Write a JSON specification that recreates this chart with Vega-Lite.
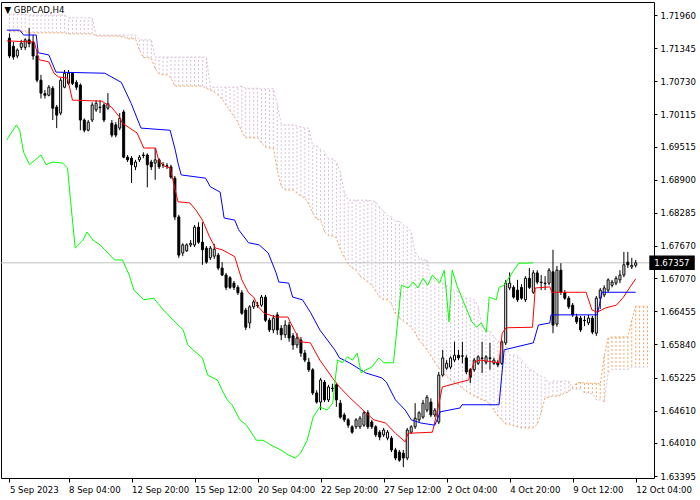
{
"$schema": "https://vega.github.io/schema/vega-lite/v6.json",
"width": 653, "height": 476,
"autosize": {"type": "none"},
"padding": {"left": 1, "top": 2, "right": 46, "bottom": 22},
"background": "white",
"title": {"text": "▼ GBPCAD,H4", "anchor": "start", "offset": -12, "dx": 4, "fontSize": 9.5, "fontWeight": "normal", "font": "DejaVu Sans Condensed, DejaVu Sans, sans-serif", "color": "black"},
"config": {
  "view": {"stroke": "#000000", "strokeWidth": 1},
  "axis": {"labelFont": "DejaVu Sans Condensed, DejaVu Sans, sans-serif", "labelFontSize": 9.5, "labelColor": "black", "tickColor": "black", "grid": false, "domain": false, "labelOverlap": false, "labelFlush": false, "labelBound": false}
},
"datasets": {
"candles": [
{"b":1,"o":1.7153,"h":1.7162,"l":1.7116,"c":1.7120},
{"b":2,"o":1.7138,"h":1.7146,"l":1.7113,"c":1.7118},
{"b":3,"o":1.7120,"h":1.7134,"l":1.7116,"c":1.7131},
{"b":4,"o":1.7136,"h":1.7150,"l":1.7131,"c":1.7144},
{"b":5,"o":1.7136,"h":1.7153,"l":1.7131,"c":1.7150},
{"b":6,"o":1.7150,"h":1.7172,"l":1.7136,"c":1.7143},
{"b":7,"o":1.7146,"h":1.7159,"l":1.7113,"c":1.7120},
{"b":8,"o":1.7120,"h":1.7131,"l":1.7071,"c":1.7075},
{"b":9,"o":1.7075,"h":1.7085,"l":1.7041,"c":1.7051},
{"b":10,"o":1.7050,"h":1.7057,"l":1.7041,"c":1.7047},
{"b":11,"o":1.7047,"h":1.7066,"l":1.7045,"c":1.7062},
{"b":12,"o":1.7060,"h":1.7064,"l":1.7001,"c":1.7023},
{"b":13,"o":1.7025,"h":1.7029,"l":1.6986,"c":1.7010},
{"b":14,"o":1.7014,"h":1.7079,"l":1.7010,"c":1.7075},
{"b":15,"o":1.7062,"h":1.7094,"l":1.7060,"c":1.7088},
{"b":16,"o":1.7069,"h":1.7094,"l":1.7066,"c":1.7088},
{"b":17,"o":1.7088,"h":1.7090,"l":1.7066,"c":1.7069},
{"b":18,"o":1.7071,"h":1.7075,"l":1.7057,"c":1.7062},
{"b":19,"o":1.7066,"h":1.7069,"l":1.6982,"c":1.7001},
{"b":20,"o":1.7001,"h":1.7004,"l":1.6978,"c":1.6982},
{"b":21,"o":1.6982,"h":1.7001,"l":1.6980,"c":1.6997},
{"b":22,"o":1.7001,"h":1.7034,"l":1.6997,"c":1.7029},
{"b":23,"o":1.7020,"h":1.7038,"l":1.7016,"c":1.7032},
{"b":24,"o":1.7025,"h":1.7038,"l":1.7014,"c":1.7024},
{"b":25,"o":1.7029,"h":1.7032,"l":1.6997,"c":1.7001},
{"b":26,"o":1.7023,"h":1.7051,"l":1.7020,"c":1.7031},
{"b":27,"o":1.6995,"h":1.7001,"l":1.6969,"c":1.6973},
{"b":28,"o":1.6992,"h":1.6997,"l":1.6969,"c":1.6973},
{"b":29,"o":1.6986,"h":1.7014,"l":1.6982,"c":1.7004},
{"b":30,"o":1.7016,"h":1.7020,"l":1.6930,"c":1.6932},
{"b":31,"o":1.6932,"h":1.6936,"l":1.6923,"c":1.6927},
{"b":32,"o":1.6930,"h":1.6934,"l":1.6884,"c":1.6918},
{"b":33,"o":1.6914,"h":1.6927,"l":1.6908,"c":1.6923},
{"b":34,"o":1.6927,"h":1.6936,"l":1.6923,"c":1.6932},
{"b":35,"o":1.6936,"h":1.6941,"l":1.6930,"c":1.6935},
{"b":36,"o":1.6936,"h":1.6939,"l":1.6876,"c":1.6918},
{"b":37,"o":1.6923,"h":1.6927,"l":1.6908,"c":1.6914},
{"b":38,"o":1.6921,"h":1.6949,"l":1.6890,"c":1.6927},
{"b":39,"o":1.6927,"h":1.6930,"l":1.6910,"c":1.6914},
{"b":40,"o":1.6918,"h":1.6923,"l":1.6912,"c":1.6917},
{"b":41,"o":1.6916,"h":1.6921,"l":1.6910,"c":1.6915},
{"b":42,"o":1.6914,"h":1.6918,"l":1.6892,"c":1.6895},
{"b":43,"o":1.6893,"h":1.6897,"l":1.6815,"c":1.6821},
{"b":44,"o":1.6821,"h":1.6825,"l":1.6745,"c":1.6750},
{"b":45,"o":1.6754,"h":1.6772,"l":1.6748,"c":1.6769},
{"b":46,"o":1.6758,"h":1.6772,"l":1.6756,"c":1.6769},
{"b":47,"o":1.6769,"h":1.6778,"l":1.6765,"c":1.6772},
{"b":48,"o":1.6769,"h":1.6806,"l":1.6765,"c":1.6802},
{"b":49,"o":1.6802,"h":1.6811,"l":1.6771,"c":1.6774},
{"b":50,"o":1.6774,"h":1.6811,"l":1.6732,"c":1.6760},
{"b":51,"o":1.6763,"h":1.6767,"l":1.6734,"c":1.6737},
{"b":52,"o":1.6745,"h":1.6767,"l":1.6741,"c":1.6763},
{"b":53,"o":1.6748,"h":1.6771,"l":1.6743,"c":1.6761},
{"b":54,"o":1.6750,"h":1.6754,"l":1.6722,"c":1.6726},
{"b":55,"o":1.6726,"h":1.6737,"l":1.6711,"c":1.6713},
{"b":56,"o":1.6713,"h":1.6717,"l":1.6685,"c":1.6690},
{"b":57,"o":1.6708,"h":1.6711,"l":1.6687,"c":1.6690},
{"b":58,"o":1.6698,"h":1.6702,"l":1.6685,"c":1.6690},
{"b":59,"o":1.6690,"h":1.6694,"l":1.6676,"c":1.6680},
{"b":60,"o":1.6680,"h":1.6685,"l":1.6639,"c":1.6642},
{"b":61,"o":1.6648,"h":1.6652,"l":1.6611,"c":1.6616},
{"b":62,"o":1.6624,"h":1.6657,"l":1.6614,"c":1.6654},
{"b":63,"o":1.6654,"h":1.6667,"l":1.6650,"c":1.6663},
{"b":64,"o":1.6657,"h":1.6663,"l":1.6652,"c":1.6656},
{"b":65,"o":1.6657,"h":1.6676,"l":1.6654,"c":1.6672},
{"b":66,"o":1.6672,"h":1.6676,"l":1.6626,"c":1.6629},
{"b":67,"o":1.6629,"h":1.6633,"l":1.6607,"c":1.6611},
{"b":68,"o":1.6611,"h":1.6639,"l":1.6605,"c":1.6633},
{"b":69,"o":1.6639,"h":1.6644,"l":1.6602,"c":1.6611},
{"b":70,"o":1.6614,"h":1.6620,"l":1.6592,"c":1.6602},
{"b":71,"o":1.6602,"h":1.6629,"l":1.6596,"c":1.6620},
{"b":72,"o":1.6620,"h":1.6626,"l":1.6589,"c":1.6596},
{"b":73,"o":1.6600,"h":1.6605,"l":1.6574,"c":1.6583},
{"b":74,"o":1.6583,"h":1.6605,"l":1.6577,"c":1.6596},
{"b":75,"o":1.6592,"h":1.6598,"l":1.6561,"c":1.6568},
{"b":76,"o":1.6568,"h":1.6574,"l":1.6551,"c":1.6555},
{"b":77,"o":1.6551,"h":1.6559,"l":1.6533,"c":1.6537},
{"b":78,"o":1.6537,"h":1.6540,"l":1.6490,"c":1.6494},
{"b":79,"o":1.6494,"h":1.6499,"l":1.6474,"c":1.6477},
{"b":80,"o":1.6477,"h":1.6522,"l":1.6462,"c":1.6518},
{"b":81,"o":1.6514,"h":1.6518,"l":1.6477,"c":1.6481},
{"b":82,"o":1.6481,"h":1.6509,"l":1.6477,"c":1.6505},
{"b":83,"o":1.6503,"h":1.6511,"l":1.6496,"c":1.6502},
{"b":84,"o":1.6509,"h":1.6512,"l":1.6468,"c":1.6481},
{"b":85,"o":1.6475,"h":1.6481,"l":1.6446,"c":1.6449},
{"b":86,"o":1.6453,"h":1.6457,"l":1.6440,"c":1.6444},
{"b":87,"o":1.6444,"h":1.6447,"l":1.6429,"c":1.6434},
{"b":88,"o":1.6431,"h":1.6434,"l":1.6418,"c":1.6421},
{"b":89,"o":1.6431,"h":1.6447,"l":1.6427,"c":1.6444},
{"b":90,"o":1.6431,"h":1.6451,"l":1.6427,"c":1.6447},
{"b":91,"o":1.6434,"h":1.6460,"l":1.6431,"c":1.6457},
{"b":92,"o":1.6457,"h":1.6462,"l":1.6427,"c":1.6431},
{"b":93,"o":1.6440,"h":1.6444,"l":1.6427,"c":1.6431},
{"b":94,"o":1.6431,"h":1.6434,"l":1.6412,"c":1.6416},
{"b":95,"o":1.6421,"h":1.6425,"l":1.6406,"c":1.6412},
{"b":96,"o":1.6416,"h":1.6429,"l":1.6412,"c":1.6425},
{"b":97,"o":1.6410,"h":1.6425,"l":1.6406,"c":1.6421},
{"b":98,"o":1.6410,"h":1.6414,"l":1.6384,"c":1.6388},
{"b":99,"o":1.6388,"h":1.6392,"l":1.6369,"c":1.6373},
{"b":100,"o":1.6384,"h":1.6388,"l":1.6366,"c":1.6369},
{"b":101,"o":1.6382,"h":1.6388,"l":1.6356,"c":1.6373},
{"b":102,"o":1.6373,"h":1.6429,"l":1.6369,"c":1.6425},
{"b":103,"o":1.6421,"h":1.6434,"l":1.6418,"c":1.6431},
{"b":104,"o":1.6431,"h":1.6475,"l":1.6427,"c":1.6447},
{"b":105,"o":1.6444,"h":1.6460,"l":1.6440,"c":1.6457},
{"b":106,"o":1.6449,"h":1.6481,"l":1.6446,"c":1.6475},
{"b":107,"o":1.6462,"h":1.6490,"l":1.6458,"c":1.6486},
{"b":108,"o":1.6477,"h":1.6484,"l":1.6449,"c":1.6453},
{"b":109,"o":1.6453,"h":1.6466,"l":1.6449,"c":1.6462},
{"b":110,"o":1.6440,"h":1.6533,"l":1.6436,"c":1.6527},
{"b":111,"o":1.6527,"h":1.6574,"l":1.6524,"c":1.6559},
{"b":112,"o":1.6540,"h":1.6555,"l":1.6537,"c":1.6549},
{"b":113,"o":1.6542,"h":1.6562,"l":1.6538,"c":1.6559},
{"b":114,"o":1.6555,"h":1.6589,"l":1.6551,"c":1.6564},
{"b":115,"o":1.6564,"h":1.6574,"l":1.6555,"c":1.6559},
{"b":116,"o":1.6562,"h":1.6589,"l":1.6549,"c":1.6563},
{"b":117,"o":1.6559,"h":1.6564,"l":1.6529,"c":1.6533},
{"b":118,"o":1.6537,"h":1.6540,"l":1.6512,"c":1.6523},
{"b":119,"o":1.6537,"h":1.6559,"l":1.6533,"c":1.6555},
{"b":120,"o":1.6549,"h":1.6564,"l":1.6546,"c":1.6561},
{"b":121,"o":1.6559,"h":1.6589,"l":1.6531,"c":1.6558},
{"b":122,"o":1.6551,"h":1.6564,"l":1.6547,"c":1.6561},
{"b":123,"o":1.6559,"h":1.6587,"l":1.6537,"c":1.6558},
{"b":124,"o":1.6549,"h":1.6559,"l":1.6546,"c":1.6555},
{"b":125,"o":1.6551,"h":1.6555,"l":1.6542,"c":1.6546},
{"b":126,"o":1.6549,"h":1.6592,"l":1.6546,"c":1.6589},
{"b":127,"o":1.6587,"h":1.6704,"l":1.6583,"c":1.6698},
{"b":128,"o":1.6689,"h":1.6718,"l":1.6685,"c":1.6698},
{"b":129,"o":1.6690,"h":1.6694,"l":1.6669,"c":1.6672},
{"b":130,"o":1.6685,"h":1.6704,"l":1.6663,"c":1.6667},
{"b":131,"o":1.6690,"h":1.6696,"l":1.6667,"c":1.6670},
{"b":132,"o":1.6667,"h":1.6711,"l":1.6663,"c":1.6707},
{"b":133,"o":1.6707,"h":1.6726,"l":1.6687,"c":1.6690},
{"b":134,"o":1.6681,"h":1.6722,"l":1.6678,"c":1.6717},
{"b":135,"o":1.6717,"h":1.6722,"l":1.6696,"c":1.6700},
{"b":136,"o":1.6700,"h":1.6713,"l":1.6685,"c":1.6699},
{"b":137,"o":1.6698,"h":1.6711,"l":1.6685,"c":1.6697},
{"b":138,"o":1.6698,"h":1.6726,"l":1.6694,"c":1.6722},
{"b":139,"o":1.6719,"h":1.6760,"l":1.6605,"c":1.6620},
{"b":140,"o":1.6622,"h":1.6730,"l":1.6617,"c":1.6722},
{"b":141,"o":1.6722,"h":1.6735,"l":1.6676,"c":1.6681},
{"b":142,"o":1.6680,"h":1.6685,"l":1.6667,"c":1.6670},
{"b":143,"o":1.6670,"h":1.6674,"l":1.6650,"c":1.6654},
{"b":144,"o":1.6657,"h":1.6661,"l":1.6635,"c":1.6639},
{"b":145,"o":1.6635,"h":1.6641,"l":1.6622,"c":1.6626},
{"b":146,"o":1.6633,"h":1.6637,"l":1.6607,"c":1.6611},
{"b":147,"o":1.6629,"h":1.6637,"l":1.6618,"c":1.6628},
{"b":148,"o":1.6624,"h":1.6639,"l":1.6620,"c":1.6633},
{"b":149,"o":1.6633,"h":1.6637,"l":1.6603,"c":1.6607},
{"b":150,"o":1.6605,"h":1.6674,"l":1.6600,"c":1.6670},
{"b":151,"o":1.6670,"h":1.6689,"l":1.6650,"c":1.6685},
{"b":152,"o":1.6676,"h":1.6694,"l":1.6672,"c":1.6689},
{"b":153,"o":1.6685,"h":1.6707,"l":1.6681,"c":1.6704},
{"b":154,"o":1.6694,"h":1.6704,"l":1.6690,"c":1.6700},
{"b":155,"o":1.6698,"h":1.6711,"l":1.6694,"c":1.6707},
{"b":156,"o":1.6704,"h":1.6722,"l":1.6698,"c":1.6713},
{"b":157,"o":1.6713,"h":1.6756,"l":1.6709,"c":1.6732},
{"b":158,"o":1.6737,"h":1.6756,"l":1.6726,"c":1.6732},
{"b":159,"o":1.6728,"h":1.6745,"l":1.6724,"c":1.6731},
{"b":160,"o":1.6731,"h":1.6741,"l":1.6727,"c":1.67357}
],
"kumo": [
{"b":1,"a":1.7165,"s":1.7198},{"b":2,"a":1.7165,"s":1.7198},{"b":3,"a":1.7165,"s":1.7198},{"b":4,"a":1.7165,"s":1.7198},{"b":5,"a":1.7165,"s":1.7198},
{"b":6,"a":1.7163,"s":1.7196},{"b":7,"a":1.7163,"s":1.7196},{"b":8,"a":1.7163,"s":1.7196},{"b":9,"a":1.7163,"s":1.7196},{"b":10,"a":1.7163,"s":1.7196},
{"b":11,"a":1.7163,"s":1.7196},{"b":12,"a":1.7163,"s":1.7196},{"b":13,"a":1.7163,"s":1.7196},{"b":14,"a":1.7163,"s":1.7196},{"b":15,"a":1.7163,"s":1.7196},
{"b":16,"a":1.7161,"s":1.7191},{"b":17,"a":1.7161,"s":1.7191},{"b":18,"a":1.7161,"s":1.7191},{"b":19,"a":1.7161,"s":1.7191},{"b":20,"a":1.7161,"s":1.7191},
{"b":21,"a":1.7161,"s":1.7191},{"b":22,"a":1.7161,"s":1.7191},
{"b":23,"a":1.7157,"s":1.7159},{"b":24,"a":1.7157,"s":1.7159},{"b":25,"a":1.7157,"s":1.7159},{"b":26,"a":1.7157,"s":1.7159},{"b":27,"a":1.7157,"s":1.7159},
{"b":28,"a":1.7157,"s":1.7159},{"b":29,"a":1.7157,"s":1.7159},{"b":30,"a":1.7155,"s":1.7159},{"b":31,"a":1.7152,"s":1.7159},{"b":32,"a":1.7152,"s":1.7159},
{"b":33,"a":1.7152,"s":1.7159},{"b":34,"a":1.7131,"s":1.7150},{"b":35,"a":1.7117,"s":1.7150},{"b":36,"a":1.7117,"s":1.7150},{"b":37,"a":1.7116,"s":1.7150},
{"b":38,"a":1.7096,"s":1.7118},{"b":39,"a":1.7087,"s":1.7118},{"b":40,"a":1.7085,"s":1.7118},{"b":41,"a":1.7085,"s":1.7118},{"b":42,"a":1.7079,"s":1.7118},
{"b":43,"a":1.7064,"s":1.7118},{"b":44,"a":1.7064,"s":1.7118},{"b":45,"a":1.7064,"s":1.7118},{"b":46,"a":1.7064,"s":1.7118},{"b":47,"a":1.7064,"s":1.7118},
{"b":48,"a":1.7064,"s":1.7118},{"b":49,"a":1.7064,"s":1.7118},{"b":50,"a":1.7064,"s":1.7118},{"b":51,"a":1.7060,"s":1.7118},
{"b":52,"a":1.7057,"s":1.7062},{"b":53,"a":1.7053,"s":1.7062},{"b":54,"a":1.7047,"s":1.7062},{"b":55,"a":1.7040,"s":1.7062},{"b":56,"a":1.7029,"s":1.7062},
{"b":57,"a":1.7018,"s":1.7062},{"b":58,"a":1.7008,"s":1.7062},{"b":59,"a":1.6997,"s":1.7062},{"b":60,"a":1.6979,"s":1.7064},
{"b":61,"a":1.6968,"s":1.7060},{"b":62,"a":1.6968,"s":1.7060},{"b":63,"a":1.6968,"s":1.7060},{"b":64,"a":1.6968,"s":1.7060},
{"b":65,"a":1.6958,"s":1.7059},{"b":66,"a":1.6951,"s":1.7059},{"b":67,"a":1.6949,"s":1.7059},{"b":68,"a":1.6949,"s":1.7059},
{"b":69,"a":1.6908,"s":1.7029},{"b":70,"a":1.6878,"s":1.6994},{"b":71,"a":1.6871,"s":1.6992},{"b":72,"a":1.6871,"s":1.6992},{"b":73,"a":1.6871,"s":1.6992},
{"b":74,"a":1.6865,"s":1.6990},{"b":75,"a":1.6860,"s":1.6988},{"b":76,"a":1.6856,"s":1.6986},{"b":77,"a":1.6845,"s":1.6986},
{"b":78,"a":1.6828,"s":1.6953},{"b":79,"a":1.6817,"s":1.6953},{"b":80,"a":1.6815,"s":1.6947},{"b":81,"a":1.6793,"s":1.6942},
{"b":82,"a":1.6786,"s":1.6929},{"b":83,"a":1.6786,"s":1.6929},{"b":84,"a":1.6782,"s":1.6923},{"b":85,"a":1.6761,"s":1.6904},
{"b":86,"a":1.6746,"s":1.6867},{"b":87,"a":1.6733,"s":1.6852},{"b":88,"a":1.6726,"s":1.6852},{"b":89,"a":1.6722,"s":1.6852},{"b":90,"a":1.6711,"s":1.6852},
{"b":91,"a":1.6706,"s":1.6852},{"b":92,"a":1.6700,"s":1.6852},{"b":93,"a":1.6694,"s":1.6851},{"b":94,"a":1.6683,"s":1.6849},{"b":95,"a":1.6672,"s":1.6839},
{"b":96,"a":1.6667,"s":1.6832},{"b":97,"a":1.6667,"s":1.6823},{"b":98,"a":1.6659,"s":1.6821},{"b":99,"a":1.6641,"s":1.6813},{"b":100,"a":1.6633,"s":1.6813},
{"b":101,"a":1.6628,"s":1.6806},{"b":102,"a":1.6622,"s":1.6802},{"b":103,"a":1.6616,"s":1.6793},{"b":104,"a":1.6605,"s":1.6756},{"b":105,"a":1.6592,"s":1.6746},
{"b":106,"a":1.6583,"s":1.6741},{"b":107,"a":1.6574,"s":1.6741},{"b":108,"a":1.6563,"s":1.6706},{"b":109,"a":1.6551,"s":1.6706},{"b":110,"a":1.6540,"s":1.6706},
{"b":111,"a":1.6531,"s":1.6698},{"b":112,"a":1.6525,"s":1.6694},{"b":113,"a":1.6518,"s":1.6689},{"b":114,"a":1.6514,"s":1.6683},{"b":115,"a":1.6509,"s":1.6683},
{"b":116,"a":1.6503,"s":1.6674},{"b":117,"a":1.6497,"s":1.6670},{"b":118,"a":1.6492,"s":1.6670},{"b":119,"a":1.6488,"s":1.6667},{"b":120,"a":1.6485,"s":1.6655},
{"b":121,"a":1.6481,"s":1.6616},{"b":122,"a":1.6479,"s":1.6609},{"b":123,"a":1.6473,"s":1.6609},{"b":124,"a":1.6462,"s":1.6598},{"b":125,"a":1.6451,"s":1.6590},
{"b":126,"a":1.6444,"s":1.6589},{"b":127,"a":1.6436,"s":1.6585},{"b":128,"a":1.6436,"s":1.6564},{"b":129,"a":1.6433,"s":1.6564},{"b":130,"a":1.6431,"s":1.6564},
{"b":131,"a":1.6429,"s":1.6555},{"b":132,"a":1.6429,"s":1.6548},{"b":133,"a":1.6429,"s":1.6537},{"b":134,"a":1.6429,"s":1.6535},{"b":135,"a":1.6436,"s":1.6529},
{"b":136,"a":1.6457,"s":1.6525},{"b":137,"a":1.6485,"s":1.6522},{"b":138,"a":1.6486,"s":1.6512},{"b":139,"a":1.6488,"s":1.6516},{"b":140,"a":1.6488,"s":1.6516},
{"b":141,"a":1.6490,"s":1.6516},{"b":142,"a":1.6494,"s":1.6516},{"b":143,"a":1.6496,"s":1.6516},{"b":144,"a":1.6505,"s":1.6501},{"b":145,"a":1.6512,"s":1.6501},
{"b":146,"a":1.6514,"s":1.6501},{"b":147,"a":1.6512,"s":1.6494},{"b":148,"a":1.6512,"s":1.6494},{"b":149,"a":1.6512,"s":1.6492},{"b":150,"a":1.6512,"s":1.6481},
{"b":151,"a":1.6510,"s":1.6481},{"b":152,"a":1.6563,"s":1.6477},{"b":153,"a":1.6596,"s":1.6531},{"b":154,"a":1.6598,"s":1.6538},{"b":155,"a":1.6598,"s":1.6538},
{"b":156,"a":1.6598,"s":1.6538},{"b":157,"a":1.6598,"s":1.6538},{"b":158,"a":1.6598,"s":1.6538},{"b":159,"a":1.6629,"s":1.6542},{"b":160,"a":1.6655,"s":1.6542},
{"b":161,"a":1.6655,"s":1.6542},{"b":162,"a":1.6655,"s":1.6542},{"b":163,"a":1.6655,"s":1.6542}
],
"tenkan": [
{"b":0.35,"v":1.7148},{"b":7.3,"v":1.7146},{"b":8.55,"v":1.7113},{"b":11.0,"v":1.7109},{"b":12.3,"v":1.7088},{"b":13.5,"v":1.7081},{"b":15.75,"v":1.7079},
{"b":17.0,"v":1.7038},{"b":24.45,"v":1.7036},{"b":26.9,"v":1.7025},{"b":28.9,"v":1.7007},{"b":29.7,"v":1.6995},{"b":33.4,"v":1.6977},{"b":35.1,"v":1.6949},
{"b":38.1,"v":1.6949},{"b":38.85,"v":1.6927},{"b":40.1,"v":1.6916},{"b":41.8,"v":1.6912},{"b":43.1,"v":1.6871},{"b":43.8,"v":1.6849},{"b":46.8,"v":1.6847},
{"b":48.3,"v":1.6834},{"b":50.0,"v":1.6815},{"b":51.8,"v":1.6784},{"b":53.3,"v":1.6763},{"b":55.0,"v":1.6760},{"b":57.5,"v":1.6750},{"b":58.2,"v":1.6747},
{"b":60.0,"v":1.6704},{"b":61.7,"v":1.6680},{"b":63.0,"v":1.6672},{"b":64.2,"v":1.6654},{"b":65.7,"v":1.6642},{"b":68.7,"v":1.6635},{"b":71.7,"v":1.6635},
{"b":72.4,"v":1.6624},{"b":74.9,"v":1.6589},{"b":77.4,"v":1.6587},{"b":79.8,"v":1.6555},{"b":83.1,"v":1.6521},{"b":84.8,"v":1.6505},{"b":87.3,"v":1.6486},
{"b":91.5,"v":1.6457},{"b":93.5,"v":1.6444},{"b":96.5,"v":1.6438},{"b":99.0,"v":1.6419},{"b":101.5,"v":1.6403},{"b":102.2,"v":1.6419},{"b":108.4,"v":1.6421},
{"b":109.7,"v":1.6462},{"b":110.9,"v":1.6505},{"b":115.4,"v":1.6514},{"b":117.6,"v":1.6518},{"b":118.9,"v":1.6551},{"b":120.4,"v":1.6555},{"b":125.3,"v":1.6550},
{"b":126.1,"v":1.6605},{"b":127.1,"v":1.6615},{"b":133.8,"v":1.6616},{"b":134.5,"v":1.6689},{"b":138.2,"v":1.6691},{"b":138.7,"v":1.6681},{"b":147.4,"v":1.6681},
{"b":148.9,"v":1.6648},{"b":150.2,"v":1.6644},{"b":152.4,"v":1.6652},{"b":155.1,"v":1.6657},{"b":156.9,"v":1.6672},{"b":158.6,"v":1.6691},{"b":160,"v":1.6706}
],
"kijun": [
{"b":0.35,"v":1.7168},{"b":3.6,"v":1.7168},{"b":4.6,"v":1.7159},{"b":7.8,"v":1.7159},{"b":8.3,"v":1.7126},{"b":11.0,"v":1.7122},{"b":12.8,"v":1.7090},
{"b":25.2,"v":1.7088},{"b":29.4,"v":1.7071},{"b":31.9,"v":1.7032},{"b":34.4,"v":1.6986},{"b":41.8,"v":1.6982},{"b":43.1,"v":1.6945},{"b":43.8,"v":1.6921},
{"b":44.6,"v":1.6899},{"b":50.8,"v":1.6893},{"b":52.0,"v":1.6877},{"b":54.5,"v":1.6867},{"b":55.5,"v":1.6819},{"b":58.2,"v":1.6815},{"b":59.2,"v":1.6797},
{"b":61.7,"v":1.6773},{"b":64.4,"v":1.6769},{"b":66.7,"v":1.6754},{"b":68.7,"v":1.6717},{"b":69.4,"v":1.6700},{"b":71.9,"v":1.6698},{"b":72.9,"v":1.6672},
{"b":75.4,"v":1.6667},{"b":77.4,"v":1.6644},{"b":79.8,"v":1.6611},{"b":83.6,"v":1.6574},{"b":84.8,"v":1.6559},{"b":87.3,"v":1.6550},{"b":91.5,"v":1.6531},
{"b":95.5,"v":1.6522},{"b":96.7,"v":1.6514},{"b":99.0,"v":1.6481},{"b":101.5,"v":1.6462},{"b":103.0,"v":1.6444},{"b":105.5,"v":1.6438},{"b":109.0,"v":1.6434},
{"b":110.4,"v":1.6459},{"b":115.4,"v":1.6466},{"b":115.9,"v":1.6472},{"b":125.3,"v":1.6472},{"b":126.6,"v":1.6574},{"b":134.0,"v":1.6587},{"b":135.3,"v":1.6620},
{"b":138.2,"v":1.6624},{"b":138.5,"v":1.6639},{"b":150.2,"v":1.6639},{"b":150.7,"v":1.6654},{"b":151.4,"v":1.6681},{"b":160,"v":1.6681}
],
"chikou": [
{"b":0.35,"v":1.6964},{"b":1.1,"v":1.6973},{"b":2.8,"v":1.6992},{"b":3.6,"v":1.6982},{"b":4.6,"v":1.6941},{"b":6.1,"v":1.6918},{"b":9.0,"v":1.6936},
{"b":10.3,"v":1.6918},{"b":12.0,"v":1.6923},{"b":14.5,"v":1.6921},{"b":15.75,"v":1.6912},{"b":16.5,"v":1.6852},{"b":17.7,"v":1.6763},{"b":19.7,"v":1.6778},
{"b":20.7,"v":1.6793},{"b":22.2,"v":1.6778},{"b":24.0,"v":1.6769},{"b":25.2,"v":1.6760},{"b":27.7,"v":1.6741},{"b":29.7,"v":1.6741},{"b":31.4,"v":1.6713},
{"b":32.6,"v":1.6685},{"b":35.1,"v":1.6667},{"b":37.6,"v":1.6670},{"b":40.1,"v":1.6648},{"b":42.6,"v":1.6629},{"b":45.1,"v":1.6611},{"b":46.3,"v":1.6583},
{"b":47.6,"v":1.6574},{"b":50.0,"v":1.6559},{"b":51.3,"v":1.6527},{"b":53.8,"v":1.6518},{"b":55.0,"v":1.6499},{"b":56.3,"v":1.6481},{"b":57.5,"v":1.6472},
{"b":59.5,"v":1.6444},{"b":61.2,"v":1.6434},{"b":63.7,"v":1.6406},{"b":65.4,"v":1.6406},{"b":67.4,"v":1.6397},{"b":69.9,"v":1.6388},{"b":71.7,"v":1.6379},
{"b":73.6,"v":1.6373},{"b":74.9,"v":1.6382},{"b":76.6,"v":1.6406},{"b":78.1,"v":1.6449},{"b":79.8,"v":1.6468},{"b":81.6,"v":1.6462},{"b":83.1,"v":1.6475},
{"b":83.6,"v":1.6512},{"b":84.3,"v":1.6555},{"b":85.6,"v":1.6550},{"b":86.8,"v":1.6561},{"b":88.1,"v":1.6555},{"b":89.3,"v":1.6568},{"b":90.3,"v":1.6531},
{"b":91.5,"v":1.6537},{"b":93.0,"v":1.6542},{"b":94.8,"v":1.6559},{"b":96.0,"v":1.6550},{"b":98.5,"v":1.6550},{"b":99.7,"v":1.6635},{"b":100.5,"v":1.6694},
{"b":102.2,"v":1.6689},{"b":103.5,"v":1.6700},{"b":104.7,"v":1.6689},{"b":106.0,"v":1.6707},{"b":107.2,"v":1.6694},{"b":108.4,"v":1.6713},{"b":110.2,"v":1.6698},
{"b":111.4,"v":1.6722},{"b":112.6,"v":1.6626},{"b":113.4,"v":1.6722},{"b":114.6,"v":1.6694},{"b":116.4,"v":1.6661},{"b":118.4,"v":1.6626},{"b":119.6,"v":1.6616},
{"b":120.8,"v":1.6624},{"b":122.1,"v":1.6607},{"b":122.8,"v":1.6672},{"b":124.6,"v":1.6667},{"b":125.3,"v":1.6690},{"b":126.6,"v":1.6694},{"b":128.8,"v":1.6719},
{"b":130.3,"v":1.6735},{"b":132.0,"v":1.6735},{"b":134.0,"v":1.67357}
]
},
"layer": [
{
  "data": {"name": "kumo"},
  "mark": {"type": "rule", "strokeDash": [2, 2], "strokeWidth": 1, "clip": true},
  "encoding": {
    "x": {"field": "b", "type": "quantitative", "scale": {"domain": [0.125, 163.375], "nice": false, "zero": false},
      "axis": {"title": null, "orient": "bottom", "values": [1,16,32,48,64,80,96,112,128,144,160], "tickCount": 30, "tickSize": 4, "labelAlign": "left", "labelBaseline": "top", "labelPadding": 2, "labelOverlap": false, "labelFlush": false,
        "labelExpr": "datum.value < 8 ? '5 Sep 2023' : ['8 Sep 04:00','12 Sep 20:00','15 Sep 12:00','20 Sep 04:00','22 Sep 20:00','27 Sep 12:00','2 Oct 04:00','4 Oct 20:00','9 Oct 12:00','12 Oct 04:00'][round(datum.value/16)-1]"}},
    "y": {"field": "a", "type": "quantitative", "scale": {"domain": [1.63359, 1.72203], "nice": false, "zero": false},
      "axis": {"title": null, "orient": "right", "values": [1.7196,1.71345,1.7073,1.70115,1.69515,1.689,1.68285,1.6767,1.6707,1.66455,1.6584,1.65225,1.6461,1.6401,1.63395], "tickCount": 30, "format": ".5f", "tickSize": 3, "labelPadding": 3, "labelOverlap": false, "labelFlush": false}},
    "y2": {"field": "s"},
    "color": {"condition": {"test": "datum.a >= datum.s", "value": "#F4A460"}, "value": "#D8BFD8"}
  }
},
{
  "data": {"name": "kumo"},
  "mark": {"type": "line", "color": "#F4A460", "strokeDash": [2, 2], "strokeWidth": 1, "clip": true},
  "encoding": {"x": {"field": "b", "type": "quantitative", "axis": {"title": null}}, "y": {"field": "a", "type": "quantitative", "axis": {"title": null}}}
},
{
  "data": {"name": "kumo"},
  "mark": {"type": "line", "color": "#D8BFD8", "strokeDash": [2, 2], "strokeWidth": 1, "clip": true},
  "encoding": {"x": {"field": "b", "type": "quantitative", "axis": {"title": null}}, "y": {"field": "s", "type": "quantitative", "axis": {"title": null}}}
},
{
  "data": {"values": [{"bid": 1.67357}]},
  "mark": {"type": "rule", "color": "#C0C0C0", "strokeWidth": 1},
  "encoding": {"y": {"field": "bid", "type": "quantitative", "axis": {"title": null}}}
},
{
  "data": {"name": "candles"},
  "mark": {"type": "rule", "color": "black", "strokeWidth": 1, "clip": true},
  "encoding": {"x": {"field": "b", "type": "quantitative", "axis": {"title": null}}, "y": {"field": "l", "type": "quantitative", "axis": {"title": null}}, "y2": {"field": "h"}}
},
{
  "data": {"name": "candles"},
  "mark": {"type": "bar", "width": 2, "stroke": "black", "strokeWidth": 1, "clip": true},
  "encoding": {"x": {"field": "b", "type": "quantitative", "axis": {"title": null}}, "y": {"field": "o", "type": "quantitative", "axis": {"title": null}}, "y2": {"field": "c"},
    "fill": {"condition": {"test": "datum.c < datum.o", "value": "black"}, "value": "white"}}
},
{
  "data": {"name": "tenkan"},
  "mark": {"type": "line", "color": "#FF0000", "strokeWidth": 1, "clip": true},
  "encoding": {"x": {"field": "b", "type": "quantitative", "axis": {"title": null}}, "y": {"field": "v", "type": "quantitative", "axis": {"title": null}}}
},
{
  "data": {"name": "kijun"},
  "mark": {"type": "line", "color": "#0000FF", "strokeWidth": 1, "clip": true},
  "encoding": {"x": {"field": "b", "type": "quantitative", "axis": {"title": null}}, "y": {"field": "v", "type": "quantitative", "axis": {"title": null}}}
},
{
  "data": {"name": "chikou"},
  "mark": {"type": "line", "color": "#00FF00", "strokeWidth": 1, "clip": true},
  "encoding": {"x": {"field": "b", "type": "quantitative", "axis": {"title": null}}, "y": {"field": "v", "type": "quantitative", "axis": {"title": null}}}
},
{
  "data": {"values": [{"bid": 1.67357, "label": "1.67357"}]},
  "layer": [
    {"mark": {"type": "rect", "color": "black"},
     "encoding": {"x": {"datum": 163.45, "type": "quantitative", "axis": {"title": null}}, "x2": {"datum": 175}, "y": {"datum": 1.67492, "type": "quantitative", "axis": {"title": null}}, "y2": {"datum": 1.67222}}},
    {"mark": {"type": "text", "color": "white", "align": "left", "baseline": "middle", "font": "DejaVu Sans Condensed, DejaVu Sans, sans-serif", "fontSize": 9.5},
     "encoding": {"x": {"datum": 164.7, "type": "quantitative", "axis": {"title": null}}, "y": {"field": "bid", "type": "quantitative", "axis": {"title": null}}, "text": {"field": "label"}}}
  ]
}
]
}
